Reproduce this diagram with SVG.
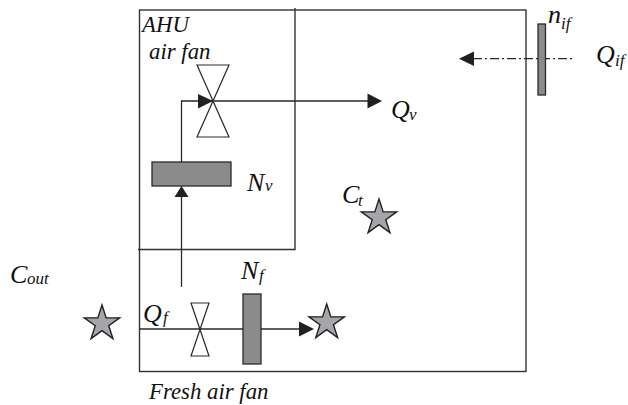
<svg xmlns="http://www.w3.org/2000/svg" width="628" height="405" viewBox="0 0 628 405">
<style>
.l{fill:none;stroke:#333;stroke-width:1.4}
.c{fill:none;stroke:#2a2a2a;stroke-width:1.3}
.box{fill:#8b8b8d;stroke:#2a2a2a;stroke-width:1.3}
.v{fill:#fff;stroke:#2a2a2a;stroke-width:1.2}
.a{fill:#231f20}
.s{fill:#a5a6aa;stroke:#231f20;stroke-width:1.4}
text{font-family:"Liberation Serif","Times New Roman",serif;font-style:italic;fill:#111}
.t{font-size:22.800px}
.b{font-size:26px}
.u{font-size:17px}
</style>
<defs>
<polygon id="star" class="s" points="0,-18.6 4.17,-5.74 17.69,-5.75 6.75,2.19 10.93,15.05 0,7.1 -10.93,15.05 -6.75,2.19 -17.69,-5.75 -4.17,-5.74"/>
</defs>
<rect width="628" height="405" fill="#fff"/>
<g id="room"><rect class="l" x="139.5" y="10" width="386.5" height="361.5"/></g>
<g id="ahu"><path class="l" d="M295 8V249.5H138"/><text class="t" x="142" y="32">AHU</text></g>
<g id="connectors">
<path class="c" d="M181.500 162V101H213H368"/>
<polygon class="a" points="198,94 213,101 198,108.500"/>
<polygon class="a" points="367.500,93.500 382,101 367.500,108.500"/>
<path class="c" d="M181.500 287V197"/>
<polygon class="a" points="174.500,197 181.500,186 188.500,197"/>
<path class="c" d="M140 329H299"/>
<polygon class="a" points="299,321.500 314,329 299,336.500"/>
<path class="c" d="M473 58.700H573" stroke-dasharray="9 3 2 3"/>
<polygon class="a" points="474,51.500 459,58.700 474,66"/>
</g>
<g id="air-fan"><polygon class="v" points="197,65 229,65 197,137 229,137"/><text class="t" x="149" y="59">air fan</text></g>
<g id="nv"><rect class="box" x="152" y="162" width="79" height="24"/><text class="b" x="247" y="191">N</text><text class="u" x="265" y="191">v</text></g>
<g id="qv"><text class="b" x="391" y="118">Q</text><text class="u" x="409" y="120">v</text></g>
<g id="ct"><text class="b" x="342" y="203">C</text><text class="u" x="358" y="206">t</text><use href="#star" x="379" y="217.600"/></g>
<g id="cout"><text class="b" x="10" y="283">C</text><text class="u" x="27" y="284">out</text></g>
<g id="star-out"><use href="#star" x="102" y="323.600"/></g>
<g id="qf"><text class="b" x="143" y="322">Q</text><text class="u" x="163" y="323">f</text></g>
<g id="fresh-valve"><polygon class="v" points="191,303 209,303 191,356 209,356"/></g>
<g id="nf"><rect class="box" x="243" y="294" width="18" height="70"/><text class="b" x="241" y="279">N</text><text class="u" x="259" y="281">f</text></g>
<g id="star-in"><use href="#star" x="326.700" y="322.600"/></g>
<g id="fresh-label"><text class="t" x="149" y="399">Fresh air fan</text></g>
<g id="nif"><rect class="box" x="538" y="24" width="7.500" height="71"/><text class="b" x="548" y="23">n</text><text class="u" x="561" y="29">if</text></g>
<g id="qif"><text class="b" x="596" y="63">Q</text><text class="u" x="615" y="66">if</text></g>
</svg>
